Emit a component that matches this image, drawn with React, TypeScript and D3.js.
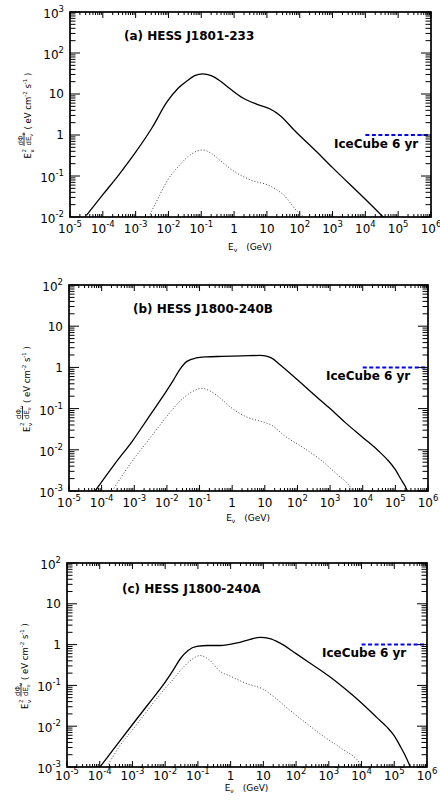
import React from 'react';
import * as d3 from 'd3';

type Pt = [number, number];

// ---- data (E in GeV, E^2 dPhi/dE in eV cm^-2 s^-1) ----
const xTickExps = [-5, -4, -3, -2, -1, 0, 1, 2, 3, 4, 5, 6];
const yTickExpsA = [-2, -1, 0, 1, 2, 3];
const yTickExpsBC = [-3, -2, -1, 0, 1, 2];

const panelTitles = ['(a) HESS J1801-233', '(b) HESS J1800-240B', '(c) HESS J1800-240A'];
const iceCubeLabel = 'IceCube 6 yr';
const iceCubeE: number[] = [1e4, 1e6];
const iceCubeFlux = 1;

const solidA: Pt[] = [
  [3.16e-5, 0.011], [1e-4, 0.035], [3.16e-4, 0.11], [1e-3, 0.38], [3.16e-3, 1.5], [8.9e-3, 6.3],
  [0.02, 14], [0.037, 21], [0.063, 28], [0.112, 31], [0.2, 28], [0.37, 21], [0.79, 13],
  [1.86, 8], [5, 5.6], [12.6, 4.3], [25, 3.0], [72, 1.25], [316, 0.4], [1000, 0.16],
  [1e4, 0.027], [4e4, 0.009],
];
const dottedA: Pt[] = [
  [2.5e-3, 0.01], [5e-3, 0.03], [9.1e-3, 0.076], [0.02, 0.17], [0.04, 0.3], [0.071, 0.4],
  [0.105, 0.43], [0.2, 0.36], [0.37, 0.24], [1, 0.13], [3.16, 0.08], [12.6, 0.057],
  [31.6, 0.035], [100, 0.012], [178, 0.009],
];
const solidB: Pt[] = [
  [6.3e-5, 0.001], [2.5e-4, 0.0045], [9.1e-4, 0.017], [2.5e-3, 0.055], [6.3e-3, 0.16],
  [0.016, 0.5], [0.025, 0.9], [0.041, 1.4], [0.079, 1.7], [0.16, 1.8], [0.5, 1.85], [2, 1.9],
  [7.2, 1.95], [11.2, 1.88], [15.8, 1.7], [28, 1.2], [100, 0.5], [300, 0.23], [1000, 0.1],
  [3000, 0.045], [1e4, 0.02], [3e4, 0.0095], [6e4, 0.0055], [1e5, 0.0033], [1.5e5, 0.0019],
  [2e5, 0.0013], [2.34e5, 0.001],
];
const dottedB: Pt[] = [
  [2.1e-4, 0.001], [9.1e-4, 0.0056], [3.16e-3, 0.02], [0.01, 0.065], [0.027, 0.16], [0.056, 0.25],
  [0.117, 0.31], [0.224, 0.26], [0.43, 0.18], [0.87, 0.11], [2.5, 0.065], [8.9, 0.047],
  [15.8, 0.04], [40, 0.022], [158, 0.011], [500, 0.0058], [1580, 0.0026], [4000, 0.0013], [5000, 0.001],
];
const solidC: Pt[] = [
  [1.02e-4, 0.001], [3.16e-4, 0.0033], [1e-3, 0.011], [3.16e-3, 0.036], [0.01, 0.12],
  [0.0178, 0.24], [0.029, 0.45], [0.05, 0.72], [0.093, 0.9], [0.2, 0.95], [0.48, 0.95],
  [1.58, 1.1], [4, 1.35], [7.9, 1.5], [15.8, 1.4], [31.6, 1.1], [100, 0.6], [300, 0.33],
  [1000, 0.17], [3000, 0.085], [1e4, 0.037], [3e4, 0.016], [6e4, 0.0095], [1e5, 0.0058],
  [1.6e5, 0.003], [2.4e5, 0.0016], [3.1e5, 0.001],
];
const dottedC: Pt[] = [
  [1.66e-4, 0.001], [4e-4, 0.0032], [1.05e-3, 0.0085], [3.16e-3, 0.027], [0.01, 0.085],
  [0.0174, 0.14], [0.0316, 0.25], [0.063, 0.42], [0.117, 0.54], [0.224, 0.42], [0.48, 0.22],
  [0.95, 0.17], [3.16, 0.11], [10, 0.08], [20, 0.054], [63, 0.025], [200, 0.012], [676, 0.0057],
  [2500, 0.0028], [9100, 0.0012], [1.05e4, 0.001],
];

// ---- layout ----
const FONT = 'DejaVu Sans, Verdana, sans-serif';

interface PanelCfg {
  left: number; right: number; top: number; bottom: number;
  yExps: number[]; solid: Pt[]; dotted: Pt[]; title: string;
  titleDx: number; titleDy: number; iceDx: number;
  labelOff: number; xTitleOff: number; yTitleX: number;
}

const panels: PanelCfg[] = [
  { left: 70, right: 431, top: 12, bottom: 217, yExps: yTickExpsA, solid: solidA, dotted: dottedA,
    title: panelTitles[0], titleDx: 54, titleDy: 28, iceDx: -97, labelOff: 16, xTitleOff: 33, yTitleX: 31 },
  { left: 69, right: 428, top: 285, bottom: 491, yExps: yTickExpsBC, solid: solidB, dotted: dottedB,
    title: panelTitles[1], titleDx: 64, titleDy: 28, iceDx: -102, labelOff: 15.5, xTitleOff: 30, yTitleX: 29.5 },
  { left: 67, right: 427, top: 563, bottom: 767, yExps: yTickExpsBC, solid: solidC, dotted: dottedC,
    title: panelTitles[2], titleDx: 55, titleDy: 30, iceDx: -105, labelOff: 12.5, xTitleOff: 24, yTitleX: 28 },
];

function PowLabel({ exp, x, y, anchor }: { exp: number; x: number; y: number; anchor: string }) {
  if (exp === 0 || exp === 1) {
    return (
      <text x={x} y={y} textAnchor={anchor} fontSize={12} fontFamily={FONT}>{exp === 0 ? '1' : '10'}</text>
    );
  }
  return (
    <text x={x} y={y} textAnchor={anchor} fontSize={12} fontFamily={FONT}>
      10<tspan fontSize={8.5} dy={-6}>{String(exp)}</tspan>
    </text>
  );
}

function YTitle({ x, y }: { x: number; y: number }) {
  return (
    <g transform={`translate(${x},${y}) rotate(-90)`} fontFamily={FONT} fill="black">
      <text x={-44} y={0} fontSize={8.5}>E</text>
      <text x={-38} y={2.5} fontSize={5.5}>ν</text>
      <text x={-38} y={-5.5} fontSize={5.5}>2</text>
      <text x={-31} y={-8.5} fontSize={7}>dΦ<tspan fontSize={5} dy={2}>ν</tspan></text>
      <line x1={-31.5} x2={-18} y1={-7} y2={-7} stroke="black" strokeWidth={0.8} />
      <text x={-31} y={-0.5} fontSize={7}>dE<tspan fontSize={5} dy={2}>ν</tspan></text>
      <text x={-15} y={0} fontSize={8.5}>
        ( eV cm<tspan fontSize={5.5} dy={-4}>-2</tspan><tspan dy={4}> s</tspan>
        <tspan fontSize={5.5} dy={-4}>-1</tspan><tspan dy={4}> )</tspan>
      </text>
    </g>
  );
}

function Panel({ cfg, idx }: { cfg: PanelCfg; idx: number }) {
  const yMinExp = cfg.yExps[0];
  const yMaxExp = cfg.yExps[cfg.yExps.length - 1];
  const x = d3.scaleLog().domain([Math.pow(10, xTickExps[0]), Math.pow(10, xTickExps[xTickExps.length - 1])]).range([cfg.left, cfg.right]);
  const y = d3.scaleLog().domain([Math.pow(10, yMinExp), Math.pow(10, yMaxExp)]).range([cfg.bottom, cfg.top]);
  const line = d3.line<Pt>().x(d => x(d[0])).y(d => y(d[1])).curve(d3.curveMonotoneX);

  const xMinor: number[] = [];
  for (let i = 0; i < xTickExps.length - 1; i++) for (let m = 2; m <= 9; m++) xMinor.push(m * Math.pow(10, xTickExps[i]));
  const yMinor: number[] = [];
  for (let i = 0; i < cfg.yExps.length - 1; i++) for (let m = 2; m <= 9; m++) yMinor.push(m * Math.pow(10, cfg.yExps[i]));

  const clipId = `clip${idx}`;
  const xMajL = 6, xMinL = 3, yMajL = 10, yMinL = 5.5;
  const y1 = y(iceCubeFlux);

  return (
    <g>
      <defs>
        <clipPath id={clipId}>
          <rect x={cfg.left} y={cfg.top} width={cfg.right - cfg.left} height={cfg.bottom - cfg.top} />
        </clipPath>
      </defs>
      <g clipPath={`url(#${clipId})`} fill="none">
        <path d={line(cfg.dotted) || ''} stroke="#444" strokeWidth={1} strokeDasharray="1 2" />
        <path d={line(cfg.solid) || ''} stroke="black" strokeWidth={1.3} />
      </g>
      <line x1={x(iceCubeE[0])} x2={x(iceCubeE[1])} y1={y1} y2={y1} stroke="#0000ff" strokeWidth={2} strokeDasharray="4 2.5" />
      <text x={cfg.right + cfg.iceDx} y={y1 + 12.5} fontSize={12} fontWeight="bold" fontFamily={FONT}>{iceCubeLabel}</text>
      <text x={cfg.left + cfg.titleDx} y={cfg.top + cfg.titleDy} fontSize={12} fontWeight="bold" fontFamily={FONT}>{cfg.title}</text>

      {/* ticks */}
      <g stroke="black" strokeWidth={1}>
        {xTickExps.map(e => {
          const px = x(Math.pow(10, e));
          return (
            <g key={`xM${e}`}>
              <line x1={px} x2={px} y1={cfg.bottom} y2={cfg.bottom - xMajL} />
              <line x1={px} x2={px} y1={cfg.top} y2={cfg.top + xMajL} />
            </g>
          );
        })}
        {xMinor.map((v, i) => {
          const px = x(v);
          return (
            <g key={`xm${i}`}>
              <line x1={px} x2={px} y1={cfg.bottom} y2={cfg.bottom - xMinL} />
              <line x1={px} x2={px} y1={cfg.top} y2={cfg.top + xMinL} />
            </g>
          );
        })}
        {cfg.yExps.map(e => {
          const py = y(Math.pow(10, e));
          return (
            <g key={`yM${e}`}>
              <line x1={cfg.left} x2={cfg.left + yMajL} y1={py} y2={py} />
              <line x1={cfg.right} x2={cfg.right - yMajL} y1={py} y2={py} />
            </g>
          );
        })}
        {yMinor.map((v, i) => {
          const py = y(v);
          return (
            <g key={`ym${i}`}>
              <line x1={cfg.left} x2={cfg.left + yMinL} y1={py} y2={py} />
              <line x1={cfg.right} x2={cfg.right - yMinL} y1={py} y2={py} />
            </g>
          );
        })}
      </g>
      <rect x={cfg.left} y={cfg.top} width={cfg.right - cfg.left} height={cfg.bottom - cfg.top} fill="none" stroke="black" strokeWidth={1.7} />

      {/* tick labels */}
      {xTickExps.map(e => (
        <PowLabel key={`xl${e}`} exp={e} x={x(Math.pow(10, e))} y={cfg.bottom + cfg.labelOff} anchor="middle" />
      ))}
      {cfg.yExps.map(e => (
        <PowLabel key={`yl${e}`} exp={e} x={cfg.left - 6} y={y(Math.pow(10, e)) + (e === 0 || e === 1 ? 4.3 : 6)} anchor="end" />
      ))}

      {/* axis titles */}
      <text x={x(1) - 6} y={cfg.bottom + cfg.xTitleOff} fontSize={9} fontFamily={FONT}>
        E<tspan fontSize={6} dy={2}>ν</tspan><tspan dy={-2} dx={9}>(GeV)</tspan>
      </text>
      <YTitle x={cfg.yTitleX} y={(cfg.top + cfg.bottom) / 2} />
    </g>
  );
}

export default function App() {
  return (
    <svg width={440} height={807} style={{ position: 'absolute', left: 0, top: 0, background: 'white' }}>
      <rect x={0} y={0} width={440} height={807} fill="white" />
      {panels.map((p, i) => <Panel key={i} cfg={p} idx={i} />)}
    </svg>
  );
}
